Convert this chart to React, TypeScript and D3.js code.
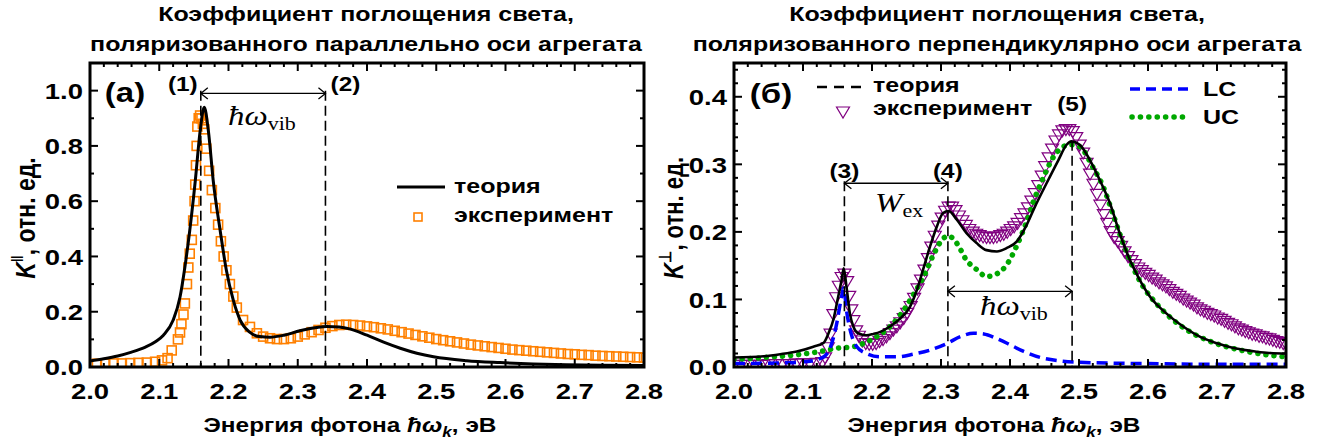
import * as d3 from "d3";

const SANS = "'Liberation Sans', Arial, Helvetica, sans-serif";
const SERIF = "'Liberation Serif', 'Times New Roman', serif";
const SX = 1.22; // the picture is stretched horizontally, text included

// (a) parallel polarisation
const parTheoryE = [2.0, 2.02, 2.04, 2.06, 2.08, 2.095, 2.106, 2.12, 2.13, 2.137, 2.144, 2.152, 2.159, 2.165, 2.171, 2.178, 2.188, 2.197, 2.207, 2.217, 2.231, 2.245, 2.26, 2.28, 2.303, 2.327, 2.342, 2.36, 2.375, 2.4, 2.424, 2.448, 2.472, 2.496, 2.544, 2.592, 2.64, 2.688, 2.74, 2.8];
const parTheoryK = [0.022, 0.03, 0.04, 0.054, 0.072, 0.092, 0.115, 0.169, 0.253, 0.361, 0.493, 0.673, 0.853, 0.94, 0.853, 0.673, 0.493, 0.349, 0.241, 0.169, 0.125, 0.11, 0.108, 0.115, 0.131, 0.143, 0.147, 0.145, 0.138, 0.115, 0.09, 0.068, 0.05, 0.037, 0.023, 0.016, 0.011, 0.008, 0.006, 0.005];

const parExpE = [2.01, 2.022, 2.034, 2.046, 2.058, 2.07, 2.082, 2.094, 2.104, 2.112, 2.118, 2.127, 2.13, 2.132, 2.135, 2.137, 2.14, 2.142, 2.144, 2.147, 2.149, 2.151, 2.152, 2.153, 2.154, 2.155, 2.157, 2.159, 2.161, 2.163, 2.165, 2.168, 2.172, 2.176, 2.181, 2.185, 2.189, 2.193, 2.197, 2.202, 2.207, 2.212, 2.221, 2.231, 2.241, 2.25, 2.26, 2.27, 2.28, 2.29, 2.3, 2.31, 2.32, 2.33, 2.34, 2.35, 2.36, 2.37, 2.38, 2.39, 2.4, 2.41, 2.42, 2.43, 2.44, 2.45, 2.46, 2.47, 2.48, 2.49, 2.5, 2.51, 2.52, 2.53, 2.54, 2.55, 2.56, 2.57, 2.58, 2.59, 2.6, 2.61, 2.62, 2.63, 2.64, 2.65, 2.66, 2.67, 2.68, 2.69, 2.7, 2.71, 2.72, 2.73, 2.74, 2.75, 2.76, 2.77, 2.78, 2.79, 2.8];
const parExpK = [0.012, 0.012, 0.013, 0.013, 0.014, 0.015, 0.016, 0.019, 0.024, 0.032, 0.06, 0.1, 0.125, 0.155, 0.19, 0.23, 0.3, 0.36, 0.41, 0.46, 0.53, 0.6, 0.66, 0.73, 0.8, 0.87, 0.9, 0.91, 0.9, 0.88, 0.86, 0.79, 0.71, 0.64, 0.575, 0.515, 0.455, 0.4, 0.35, 0.3, 0.255, 0.215, 0.17, 0.145, 0.122, 0.11, 0.104, 0.101, 0.101, 0.104, 0.11, 0.118, 0.126, 0.134, 0.142, 0.148, 0.152, 0.153, 0.152, 0.15, 0.147, 0.144, 0.14, 0.136, 0.131, 0.126, 0.121, 0.116, 0.111, 0.106, 0.101, 0.097, 0.093, 0.089, 0.085, 0.081, 0.078, 0.075, 0.072, 0.069, 0.066, 0.063, 0.061, 0.059, 0.057, 0.055, 0.053, 0.051, 0.049, 0.047, 0.046, 0.044, 0.043, 0.041, 0.04, 0.039, 0.038, 0.037, 0.036, 0.035, 0.034];

// (б) perpendicular polarisation
const perTheoryE = [2.0, 2.043, 2.067, 2.091, 2.115, 2.13, 2.137, 2.144, 2.151, 2.156, 2.159, 2.163, 2.168, 2.173, 2.18, 2.192, 2.202, 2.212, 2.226, 2.241, 2.255, 2.265, 2.274, 2.284, 2.294, 2.303, 2.311, 2.323, 2.337, 2.352, 2.366, 2.381, 2.395, 2.41, 2.424, 2.436, 2.453, 2.47, 2.482, 2.489, 2.501, 2.516, 2.53, 2.545, 2.559, 2.574, 2.588, 2.603, 2.627, 2.651, 2.675, 2.7, 2.724, 2.748, 2.772, 2.8];
const perTheoryK = [0.014, 0.016, 0.019, 0.023, 0.03, 0.036, 0.05, 0.07, 0.104, 0.129, 0.146, 0.119, 0.079, 0.06, 0.05, 0.047, 0.049, 0.052, 0.06, 0.072, 0.089, 0.114, 0.144, 0.178, 0.208, 0.228, 0.231, 0.218, 0.198, 0.183, 0.173, 0.171, 0.176, 0.186, 0.21, 0.237, 0.272, 0.306, 0.329, 0.334, 0.329, 0.306, 0.277, 0.242, 0.198, 0.158, 0.129, 0.104, 0.079, 0.06, 0.045, 0.035, 0.028, 0.024, 0.021, 0.02];

const lcE = [2.0, 2.067, 2.106, 2.13, 2.14, 2.148, 2.155, 2.159, 2.163, 2.171, 2.178, 2.192, 2.212, 2.236, 2.26, 2.284, 2.309, 2.328, 2.347, 2.362, 2.381, 2.4, 2.42, 2.444, 2.473, 2.5, 2.6, 2.7, 2.8];
const lcK = [0.005, 0.006, 0.008, 0.015, 0.03, 0.06, 0.099, 0.117, 0.084, 0.045, 0.03, 0.02, 0.015, 0.015, 0.019, 0.025, 0.035, 0.045, 0.05, 0.049, 0.042, 0.033, 0.023, 0.014, 0.009, 0.007, 0.005, 0.004, 0.004];

const ucE = [2.0, 2.043, 2.091, 2.125, 2.15, 2.173, 2.188, 2.202, 2.222, 2.241, 2.26, 2.275, 2.289, 2.304, 2.311, 2.323, 2.337, 2.352, 2.366, 2.381, 2.395, 2.41, 2.424, 2.434, 2.449, 2.463, 2.477, 2.486, 2.501, 2.52, 2.535, 2.549, 2.564, 2.578, 2.593, 2.612, 2.636, 2.661, 2.685, 2.714, 2.743, 2.772, 2.8];
const ucK = [0.011, 0.014, 0.018, 0.023, 0.028, 0.03, 0.035, 0.042, 0.056, 0.077, 0.107, 0.134, 0.166, 0.191, 0.194, 0.183, 0.158, 0.144, 0.134, 0.138, 0.151, 0.18, 0.215, 0.245, 0.282, 0.311, 0.326, 0.329, 0.326, 0.296, 0.267, 0.227, 0.183, 0.148, 0.119, 0.094, 0.07, 0.052, 0.04, 0.03, 0.023, 0.018, 0.015];

const perExpE = [2.0, 2.01, 2.02, 2.03, 2.04, 2.05, 2.06, 2.07, 2.08, 2.09, 2.1, 2.11, 2.12, 2.128, 2.132, 2.136, 2.14, 2.144, 2.148, 2.152, 2.156, 2.16, 2.164, 2.167, 2.17, 2.173, 2.177, 2.181, 2.186, 2.191, 2.196, 2.201, 2.206, 2.211, 2.216, 2.221, 2.226, 2.231, 2.236, 2.241, 2.246, 2.251, 2.256, 2.261, 2.266, 2.271, 2.276, 2.281, 2.286, 2.291, 2.296, 2.301, 2.306, 2.311, 2.316, 2.321, 2.326, 2.331, 2.336, 2.341, 2.346, 2.351, 2.356, 2.361, 2.366, 2.371, 2.376, 2.381, 2.386, 2.391, 2.396, 2.401, 2.406, 2.411, 2.416, 2.421, 2.426, 2.431, 2.436, 2.441, 2.446, 2.451, 2.456, 2.461, 2.466, 2.471, 2.476, 2.481, 2.486, 2.491, 2.496, 2.501, 2.506, 2.511, 2.516, 2.521, 2.526, 2.531, 2.536, 2.541, 2.546, 2.551, 2.556, 2.561, 2.566, 2.571, 2.576, 2.581, 2.586, 2.591, 2.596, 2.601, 2.606, 2.611, 2.616, 2.621, 2.626, 2.631, 2.636, 2.641, 2.646, 2.651, 2.656, 2.661, 2.666, 2.671, 2.676, 2.681, 2.686, 2.691, 2.696, 2.701, 2.706, 2.711, 2.716, 2.721, 2.726, 2.731, 2.736, 2.741, 2.746, 2.751, 2.756, 2.761, 2.766, 2.771, 2.776, 2.781, 2.786, 2.791, 2.796, 2.8];
const perExpK = [0.004, 0.004, 0.004, 0.004, 0.004, 0.005, 0.005, 0.005, 0.005, 0.006, 0.006, 0.006, 0.007, 0.008, 0.015, 0.03, 0.05, 0.079, 0.104, 0.121, 0.134, 0.139, 0.128, 0.106, 0.086, 0.07, 0.055, 0.047, 0.04, 0.036, 0.035, 0.035, 0.036, 0.039, 0.042, 0.046, 0.051, 0.056, 0.061, 0.067, 0.073, 0.081, 0.091, 0.103, 0.117, 0.13, 0.145, 0.162, 0.179, 0.195, 0.21, 0.222, 0.232, 0.238, 0.238, 0.233, 0.225, 0.218, 0.211, 0.205, 0.201, 0.198, 0.196, 0.194, 0.193, 0.193, 0.193, 0.194, 0.196, 0.198, 0.201, 0.205, 0.209, 0.214, 0.221, 0.228, 0.237, 0.247, 0.258, 0.27, 0.284, 0.298, 0.311, 0.324, 0.336, 0.345, 0.351, 0.353, 0.353, 0.35, 0.341, 0.33, 0.318, 0.303, 0.287, 0.272, 0.257, 0.241, 0.227, 0.214, 0.202, 0.193, 0.187, 0.18, 0.172, 0.165, 0.159, 0.153, 0.148, 0.144, 0.14, 0.137, 0.133, 0.13, 0.126, 0.123, 0.12, 0.116, 0.112, 0.109, 0.106, 0.102, 0.099, 0.096, 0.093, 0.089, 0.086, 0.084, 0.081, 0.079, 0.077, 0.074, 0.072, 0.069, 0.066, 0.064, 0.061, 0.058, 0.056, 0.054, 0.052, 0.05, 0.049, 0.047, 0.046, 0.044, 0.043, 0.041, 0.039, 0.038, 0.036, 0.035];

const xTickValues = d3.range(0, 41).map((i) => 2 + i * 0.02);
const yTicksA = d3.range(0, 12).map((i) => i * 0.1);
const yTicksB = d3.range(0, 23).map((i) => i * 0.02);

const titleLine1 = "Коэффициент поглощения света,";
const titleA = "поляризованного параллельно оси агрегата";
const titleB = "поляризованного перпендикулярно оси агрегата";

// peak markers: (1),(2) and (3),(4),(5)
const peaksA = [2.16, 2.34];
const peaksB = [2.16, 2.31, 2.49];

const xA = d3.scaleLinear().domain([2.0, 2.8]).range([90, 644]);
const yA = d3.scaleLinear().domain([0, 1.1]).range([367, 63]);
const xB = d3.scaleLinear().domain([2.0, 2.8]).range([734, 1286]);
const yB = d3.scaleLinear().domain([0, 0.45]).range([367, 63]);

const zip = (a: number[], b: number[]) => a.map((v, i) => [v, b[i]] as [number, number]);

function Txt({ x, y, size, anchor = "start", family = SANS, weight = "bold", italic = false, rotate = false, children }: any) {
  return (
    <g transform={`translate(${x},${y}) scale(${SX},1)${rotate ? " rotate(-90)" : ""}`}>
      <text textAnchor={anchor} fontSize={size} fontFamily={family} fontWeight={weight} fontStyle={italic ? "italic" : "normal"} fill="#000">
        {children}
      </text>
    </g>
  );
}

function Frame({ x, y, yTicks, majorEvery }: any) {
  const [x0, x1] = x.range();
  const [yb, yt] = y.range();
  const fmt = d3.format(".1f");
  const els: any[] = [];
  xTickValues.forEach((v, i) => {
    const len = i % 5 === 0 ? 8 : 4;
    const px = x(v);
    els.push(<line key={"xb" + i} x1={px} x2={px} y1={yb} y2={yb - len} />);
    els.push(<line key={"xt" + i} x1={px} x2={px} y1={yt} y2={yt + len} />);
  });
  yTicks.forEach((v: number, i: number) => {
    const len = i % majorEvery === 0 ? 8 : 4;
    const py = y(v);
    els.push(<line key={"yl" + i} x1={x0} x2={x0 + len} y1={py} y2={py} />);
    els.push(<line key={"yr" + i} x1={x1} x2={x1 - len} y1={py} y2={py} />);
  });
  return (
    <g>
      <g stroke="#000" strokeWidth={2}>{els}</g>
      <rect x={x0} y={yt} width={x1 - x0} height={yb - yt} fill="none" stroke="#000" strokeWidth={3} />
      {xTickValues.filter((_, i) => i % 5 === 0).map((v) => (
        <Txt key={"lx" + v} x={x(v)} y={399} size={22.5} anchor="middle">{fmt(v)}</Txt>
      ))}
      {yTicks.filter((_: number, i: number) => i % majorEvery === 0).map((v: number) => (
        <Txt key={"ly" + v} x={x0 - 7} y={y(v) + 8.2} size={22.5} anchor="end">{fmt(v)}</Txt>
      ))}
    </g>
  );
}

function Arrow({ xa, xb, y }: { xa: number; xb: number; y: number }) {
  const h = 7;
  return (
    <g stroke="#000" strokeWidth={1.3} fill="none">
      <line x1={xa} x2={xb} y1={y} y2={y} />
      <path d={`M${xa + h},${y - h * 0.8}L${xa},${y}L${xa + h},${y + h * 0.8}`} />
      <path d={`M${xb - h},${y - h * 0.8}L${xb},${y}L${xb - h},${y + h * 0.8}`} />
    </g>
  );
}

function XTitle({ cx }: { cx: number }) {
  return (
    <Txt x={cx} y={432} size={20} anchor="middle">
      Энергия фотона <tspan fontStyle="italic">ħω</tspan>
      <tspan fontStyle="italic" fontSize={14} dy={5}>k</tspan>
      <tspan dy={-5}>, эВ</tspan>
    </Txt>
  );
}

export default function App() {
  const lineA = d3.line<[number, number]>().x((d) => xA(d[0])).y((d) => yA(d[1])).curve(d3.curveMonotoneX);
  const lineB = d3.line<[number, number]>().x((d) => xB(d[0])).y((d) => yB(d[1])).curve(d3.curveMonotoneX);
  const tri = "M-6.5,-4L6.5,-4L0,7Z";
  const dash = "10,5";

  return (
    <>
      <style>{`body{margin:0}`}</style>
      <svg width={1327} height={447} style={{ display: "block", background: "#fff" }}>
        <defs>
          <clipPath id="clipA"><rect x={90} y={63} width={554} height={304} /></clipPath>
          <clipPath id="clipB"><rect x={734} y={63} width={552} height={304} /></clipPath>
        </defs>

        {/* titles */}
        <Txt x={366} y={21} size={20.5} anchor="middle">{titleLine1}</Txt>
        <Txt x={366} y={51} size={20.5} anchor="middle">{titleA}</Txt>
        <Txt x={997} y={21} size={20.5} anchor="middle">{titleLine1}</Txt>
        <Txt x={997} y={51} size={20.5} anchor="middle">{titleB}</Txt>

        {/* ---------- panel (a) ---------- */}
        <g clipPath="url(#clipA)">
          {zip(parExpE, parExpK).map((d, i) => (
            <rect key={i} x={xA(d[0]) - 4.5} y={yA(d[1]) - 4.5} width={9} height={9} fill="none" stroke="#ff8000" strokeWidth={1.6} />
          ))}
          <path d={lineA(zip(parTheoryE, parTheoryK)) || ""} fill="none" stroke="#000" strokeWidth={3} />
        </g>
        {peaksA.map((p) => (
          <line key={p} x1={xA(p)} x2={xA(p)} y1={yA(1.0)} y2={yA(0)} stroke="#000" strokeWidth={1.6} strokeDasharray={dash} />
        ))}
        <Arrow xa={xA(peaksA[0])} xb={xA(peaksA[1])} y={yA(0.99)} />
        <Frame x={xA} y={yA} yTicks={yTicksA} majorEvery={2} />
        <Txt x={125} y={102} size={27} anchor="middle">(a)</Txt>
        <Txt x={xA(peaksA[0]) - 18} y={91} size={20} anchor="middle">(1)</Txt>
        <Txt x={xA(peaksA[1]) + 20} y={91} size={20} anchor="middle">(2)</Txt>
        <Txt x={228} y={125} size={27} family={SERIF} weight="normal" italic>
          ħω<tspan fontStyle="normal" fontSize={18} dy={5}>vib</tspan>
        </Txt>
        {/* legend (a) */}
        <line x1={397} x2={445} y1={187} y2={187} stroke="#000" strokeWidth={3} />
        <Txt x={454} y={193} size={20.5}>теория</Txt>
        <rect x={414} y={213} width={8} height={8} fill="none" stroke="#ff8000" strokeWidth={1.6} />
        <Txt x={454} y={222} size={20.5}>эксперимент</Txt>
        <Txt x={35} y={218} size={23} anchor="middle" rotate>
          <tspan fontStyle="italic">K</tspan>
          <tspan fontSize={14} dy={-10}>‖</tspan>
          <tspan dy={10}>,  отн. ед.</tspan>
        </Txt>
        <XTitle cx={350} />

        {/* ---------- panel (б) ---------- */}
        <g clipPath="url(#clipB)">
          {zip(perExpE, perExpK).map((d, i) => (
            <path key={i} d={tri} transform={`translate(${xB(d[0])},${yB(d[1])})`} fill="none" stroke="#800080" strokeWidth={1.2} />
          ))}
          <path d={lineB(zip(ucE, ucK)) || ""} fill="none" stroke="#00a800" strokeWidth={5.5} strokeLinecap="round" strokeDasharray="0.1,8" />
          <path d={lineB(zip(lcE, lcK)) || ""} fill="none" stroke="#0000ff" strokeWidth={3.5} strokeDasharray="11,6" />
          <path d={lineB(zip(perTheoryE, perTheoryK)) || ""} fill="none" stroke="#000" strokeWidth={2.6} />
        </g>
        <line x1={xB(peaksB[0])} x2={xB(peaksB[0])} y1={yB(0.275)} y2={yB(0)} stroke="#000" strokeWidth={1.6} strokeDasharray={dash} />
        <line x1={xB(peaksB[1])} x2={xB(peaksB[1])} y1={yB(0.275)} y2={yB(0)} stroke="#000" strokeWidth={1.6} strokeDasharray={dash} />
        <line x1={xB(peaksB[2])} x2={xB(peaksB[2])} y1={yB(0.335)} y2={yB(0)} stroke="#000" strokeWidth={1.6} strokeDasharray={dash} />
        <Arrow xa={xB(peaksB[0])} xb={xB(peaksB[1])} y={yB(0.272)} />
        <Arrow xa={xB(peaksB[1])} xb={xB(peaksB[2])} y={yB(0.112)} />
        <Frame x={xB} y={yB} yTicks={yTicksB} majorEvery={5} />
        <Txt x={771} y={103} size={27} anchor="middle">(б)</Txt>
        <Txt x={xB(peaksB[0])} y={178} size={20} anchor="middle">(3)</Txt>
        <Txt x={xB(peaksB[1])} y={178} size={20} anchor="middle">(4)</Txt>
        <Txt x={xB(peaksB[2])} y={111} size={20} anchor="middle">(5)</Txt>
        <Txt x={875} y={212} size={27} family={SERIF} weight="normal" italic>
          W<tspan fontStyle="normal" fontSize={18} dy={5}>ex</tspan>
        </Txt>
        <Txt x={980} y={315} size={27} family={SERIF} weight="normal" italic>
          ħω<tspan fontStyle="normal" fontSize={18} dy={5}>vib</tspan>
        </Txt>
        {/* legend (б) */}
        <line x1={817} x2={863} y1={87} y2={87} stroke="#000" strokeWidth={2.6} strokeDasharray="10,7" />
        <Txt x={873} y={92} size={20.5}>теория</Txt>
        <path d={tri} transform="translate(843,111)" fill="none" stroke="#800080" strokeWidth={1.2} />
        <Txt x={873} y={115} size={20.5}>эксперимент</Txt>
        <line x1={1130} x2={1190} y1={89} y2={89} stroke="#0000ff" strokeWidth={3.5} strokeDasharray="10,6" />
        <Txt x={1203} y={96} size={20.5}>LC</Txt>
        <line x1={1132} x2={1190} y1={117} y2={117} stroke="#00a800" strokeWidth={5.5} strokeLinecap="round" strokeDasharray="0.1,8.3" />
        <Txt x={1203} y={124} size={20.5}>UC</Txt>
        <Txt x={683} y={218} size={22} anchor="middle" rotate>
          <tspan fontStyle="italic">K</tspan>
          <tspan fontSize={14} dy={-10}>⊥</tspan>
          <tspan dy={10}>,  отн. ед.</tspan>
        </Txt>
        <XTitle cx={994} />
      </svg>
    </>
  );
}
